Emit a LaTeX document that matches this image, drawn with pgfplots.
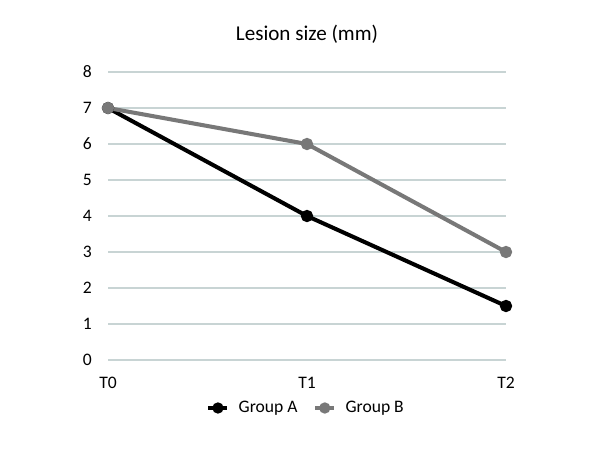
\documentclass[border=0pt]{standalone}
\usepackage{pgfplots}
\pgfplotsset{compat=1.18}
\usepackage{fontspec}
\setmainfont{Carlito}
\definecolor{gridc}{RGB}{200,212,212}
\definecolor{grpb}{RGB}{120,120,120}
\begin{document}
\begin{tikzpicture}
\useasboundingbox (0,0) rectangle (12cm,9cm);
\begin{axis}[
    at={(2.16cm,1.8cm)}, anchor=south west,
    scale only axis, width=7.96cm, height=5.76cm,
    xmin=0, xmax=2, ymin=0, ymax=8,
    xtick={0,1,2}, xticklabels={T0,T1,T2},
    ytick={0,1,...,8},
    /pgf/number format/assume math mode=true,
    axis x line*=bottom, axis y line*=left,
    y axis line style={draw=none},
    x axis line style={gridc, line width=0.8pt, -},
    ymajorgrids, grid style={gridc, line width=0.8pt},
    major tick length=0pt,
    tick label style={font=\fontsize{10}{11}\selectfont},
    yticklabel style={xshift=-0.2cm},
    xticklabel style={yshift=-0.22cm},
    title={Lesion size (mm)},
    title style={at={(0.5,1)}, anchor=center, yshift=0.55cm, font=\fontsize{12}{13}\selectfont},
    legend columns=2,
    legend style={at={(0.5,0)}, anchor=center, yshift=-0.96cm, draw=none,
        font=\fontsize{10}{11}\selectfont, column sep=0.12cm,
        /tikz/every even column/.append style={column sep=0.25cm}},
    legend image code/.code={\draw[#1, line width=2pt] (0cm,0cm) -- (0.38cm,0cm); \draw[#1, mark size=2pt] plot coordinates {(0.19cm,0cm)};},
    clip=false,
]
\addplot[black, line width=2.3pt, mark=*, mark size=2.3pt] coordinates {(0,7) (1,4) (2,1.5)};
\addlegendentry{Group A}
\addplot[grpb, line width=2.3pt, mark=*, mark size=2.3pt] coordinates {(0,7) (1,6) (2,3)};
\addlegendentry{Group B}
\end{axis}
\end{tikzpicture}
\end{document}
